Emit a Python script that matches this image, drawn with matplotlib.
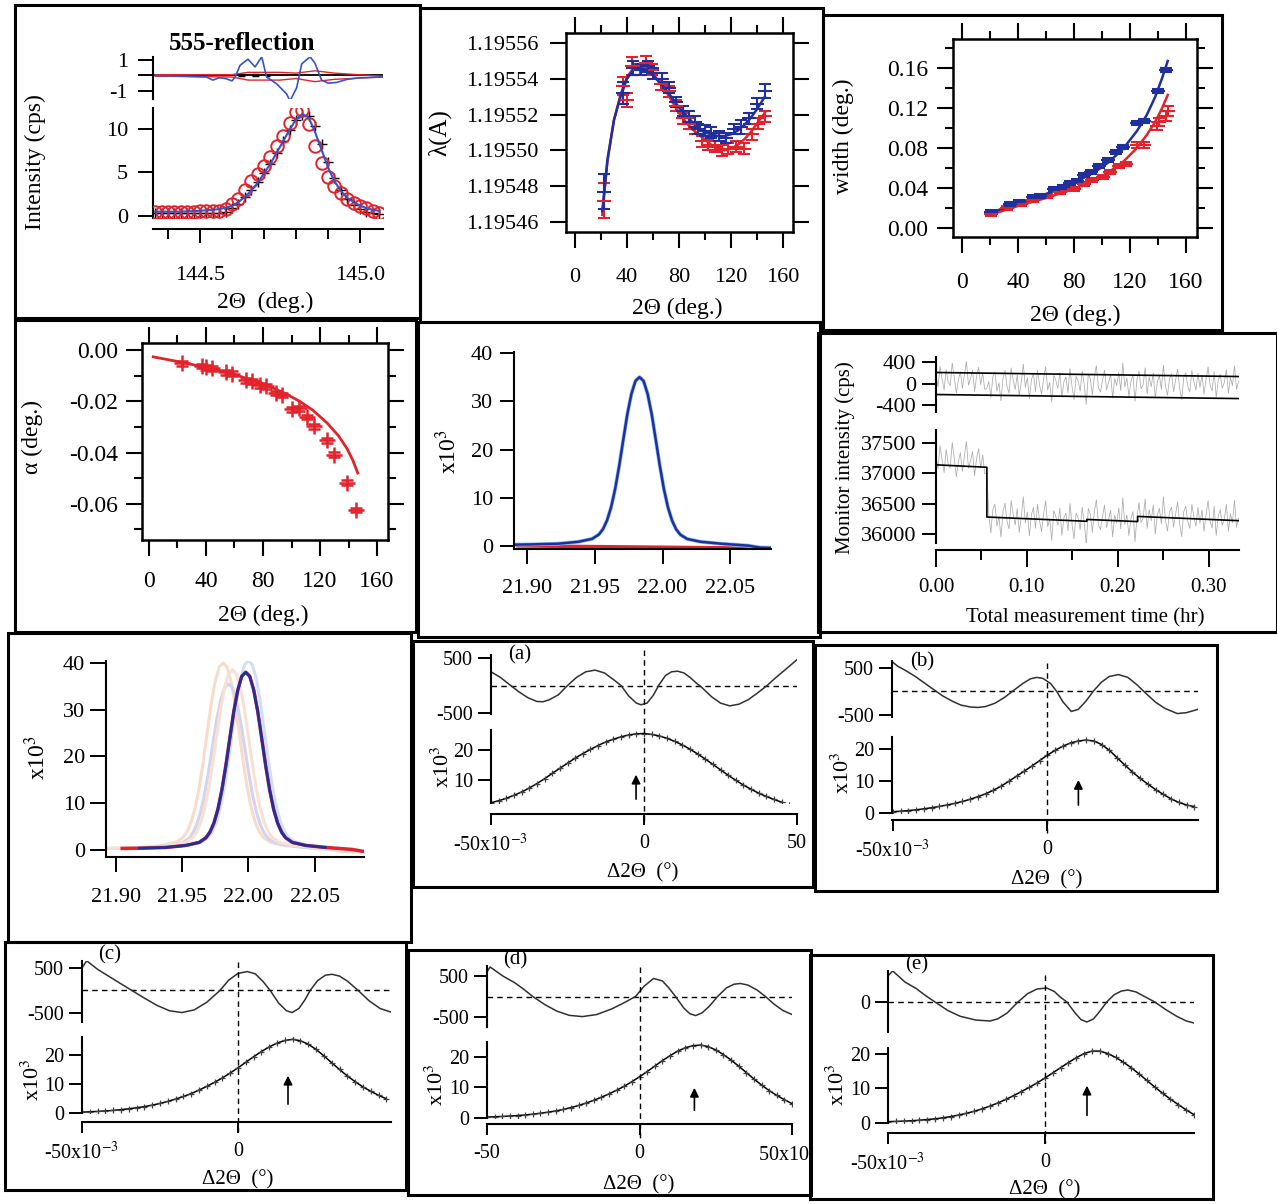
import numpy as np
import matplotlib
matplotlib.use("Agg")
import matplotlib.pyplot as plt
from matplotlib.patches import Rectangle
from matplotlib.ticker import FormatStrFormatter
from matplotlib.transforms import blended_transform_factory

plt.rcParams['font.family'] = ['Liberation Serif', 'DejaVu Serif']
plt.rcParams['mathtext.fontset'] = 'stix'
plt.rcParams['axes.unicode_minus'] = False
plt.rcParams['axes.linewidth'] = 1.5

RED = '#e3232b'
BLUE = '#1f2f9e'
BLUE_L = '#3553c8'

# ---- 555 reflection: observed, model (red circles), fit (blue) ----
tth_555 = np.round(np.arange(144.36, 145.065, 0.02), 2)
obs_555 = [0.3, 0.3, 0.3, 0.3, 0.3, 0.3, 0.3, 0.3, 0.3, 0.35,
           0.4, 0.5, 0.9, 1.4, 2.2, 3.0, 3.9, 4.9, 6.0, 7.2,
           8.6, 9.9, 11.0, 11.6, 11.5, 10.3, 8.3, 6.2, 4.4, 3.0,
           2.0, 1.3, 0.8, 0.5, 0.3, 0.2]
calc_555 = [0.45, 0.45, 0.5, 0.5, 0.5, 0.5, 0.5, 0.55, 0.55, 0.6,
            0.6, 0.8, 1.4, 2.0, 3.0, 4.0, 4.8, 5.8, 6.8, 8.0,
            9.2, 10.7, 11.9, 12.2, 10.6, 8.0, 6.1, 4.5, 3.4, 2.6,
            2.0, 1.5, 1.1, 0.9, 0.6, 0.4]
fit_555 = [0.5, 0.5, 0.5, 0.5, 0.5, 0.55, 0.55, 0.6, 0.65, 0.7,
           0.8, 0.95, 1.15, 1.6, 2.2, 2.9, 3.8, 4.9, 6.0, 7.3,
           8.6, 9.9, 11.1, 11.7, 11.3, 9.6, 7.6, 5.6, 4.0, 2.9,
           2.1, 1.6, 1.2, 0.9, 0.7, 0.6]
res555_x = [144.36, 144.45, 144.52, 144.54, 144.56, 144.58, 144.60, 144.61, 144.625, 144.65,
            144.672, 144.693, 144.708, 144.74, 144.771, 144.781, 144.802, 144.818, 144.844, 144.859,
            144.88, 144.901, 144.927, 144.96, 145.0, 145.07]
res555_blue = [0.0, -0.05, -0.1, -0.3, -0.15, -0.2, -0.35, -0.1, 0.65, 1.05,
               0.55, 1.2, -0.1, -0.55, -1.2, -1.65, -0.8, 0.75, 1.2, 0.8,
               -0.3, -0.5, -0.45, -0.25, -0.15, -0.1]
env555_x = [144.36, 144.60, 144.65, 144.75, 144.80, 144.86, 144.92, 145.07]
env555_hi = [0.05, 0.05, 0.2, 0.2, 0.15, 0.3, 0.15, -0.05]
env555_lo = [-0.05, -0.1, -0.3, -0.3, -0.2, -0.4, -0.25, -0.1]

# ---- wavelength vs 2theta ----
lam_blue_x = [22, 37, 45, 51, 56, 60, 67, 72, 78, 83, 88, 92, 95, 100, 105, 111, 116, 122, 128, 134, 140, 146]
lam_blue = [1.195477, 1.195532, 1.195546, 1.195545, 1.195547, 1.195543, 1.195540, 1.195535, 1.195527, 1.195522,
            1.195519, 1.195516, 1.195512, 1.195511, 1.195510, 1.195508, 1.195507, 1.195512, 1.195513, 1.195518,
            1.195526, 1.195533]
lam_blue_err = [10, 6, 4, 3, 3, 3, 3, 3, 3, 3, 3, 3, 3, 3, 3, 3, 3, 3, 4, 3, 3, 4]
lam_red_x = [22, 37, 40, 44, 50, 55, 59, 66, 72, 78, 83, 88, 92, 98, 102, 108, 113, 118, 124, 130, 136, 141, 146]
lam_red = [1.195472, 1.195536, 1.195528, 1.195547, 1.195545, 1.195549, 1.195545, 1.195537, 1.195533, 1.195525,
           1.195518, 1.195515, 1.195512, 1.195505, 1.195503, 1.195502, 1.195500, 1.195501, 1.195502, 1.195501,
           1.195509, 1.195515, 1.195519]
lam_red_err = [10, 5, 4, 5, 3, 4, 3, 3, 3, 3, 3, 3, 3, 3, 3, 3, 3, 3, 3, 3, 3, 3, 3]
lamfit_x = [21, 25, 30, 35, 40, 45, 50, 55, 60, 65, 70, 75, 80, 85, 90, 95, 100, 105, 110, 115, 120, 125, 130, 135, 140, 146]
lamfit_blue = [1.195466, 1.195495, 1.195517, 1.195530, 1.195540, 1.195545, 1.195546, 1.195545, 1.195542, 1.195538,
               1.195534, 1.195529, 1.195524, 1.195520, 1.195516, 1.195512, 1.195510, 1.195509, 1.195508, 1.195508,
               1.195509, 1.195511, 1.195514, 1.195518, 1.195523, 1.195530]
lamfit_red = [1.195464, 1.195494, 1.195517, 1.195531, 1.195541, 1.195546, 1.195547, 1.195546, 1.195543, 1.195538,
              1.195533, 1.195527, 1.195521, 1.195516, 1.195512, 1.195509, 1.195506, 1.195503, 1.195501, 1.195500,
              1.195501, 1.195503, 1.195506, 1.195510, 1.195515, 1.195521]

# ---- peak width vs 2theta ----
wid_blue_x = [21, 34, 41, 51, 56, 66, 72, 77, 82, 87, 92, 98, 104, 110, 115, 125, 130, 140, 146]
wid_blue = [0.016, 0.024, 0.026, 0.031, 0.032, 0.039, 0.041, 0.045, 0.047, 0.053,
            0.056, 0.062, 0.068, 0.076, 0.081, 0.105, 0.107, 0.137, 0.158]
wid_red_x = [21, 32, 42, 51, 61, 70, 80, 87, 93, 101, 106, 112, 117, 125, 130, 139, 141, 146, 147]
wid_red = [0.014, 0.020, 0.024, 0.028, 0.032, 0.036, 0.039, 0.044, 0.048, 0.051,
           0.056, 0.062, 0.064, 0.083, 0.083, 0.102, 0.106, 0.112, 0.117]
wid_red_err = [0.002, 0.002, 0.002, 0.002, 0.002, 0.002, 0.002, 0.002, 0.002, 0.002,
               0.002, 0.002, 0.002, 0.003, 0.003, 0.004, 0.004, 0.005, 0.005]
widfit_x = [20, 40, 60, 80, 95, 105, 115, 125, 132, 138, 143, 147]
widfit_blue = [0.015, 0.025, 0.034, 0.045, 0.056, 0.066, 0.079, 0.097, 0.113, 0.131, 0.150, 0.167]
widfit_red = [0.013, 0.022, 0.030, 0.039, 0.048, 0.056, 0.066, 0.080, 0.093, 0.106, 0.120, 0.133]

# ---- asymmetry alpha vs 2theta ----
alpha_x = [23, 37, 40, 44, 54, 58, 68, 72, 78, 82, 89, 93, 100, 105, 111, 116, 125, 130, 139, 145]
alpha_y = [-0.0052, -0.0062, -0.0068, -0.0072, -0.0088, -0.0092, -0.0118, -0.0122, -0.0138, -0.0142,
           -0.0168, -0.0175, -0.0232, -0.0228, -0.0262, -0.0298, -0.0352, -0.0408, -0.0518, -0.0624]
alphafit_x = [3, 20, 40, 60, 80, 95, 105, 115, 125, 133, 139, 143, 146.5]
alphafit_y = [-0.0027, -0.0045, -0.0068, -0.0096, -0.0132, -0.0168, -0.0198, -0.0235, -0.0285,
              -0.0335, -0.0385, -0.0430, -0.048]

# ---- single peak scan (x10^3 counts) ----
pk_x = [21.890, 21.903, 21.923, 21.938, 21.948, 21.953, 21.956, 21.959, 21.962, 21.965,
        21.968, 21.971, 21.974, 21.977, 21.980, 21.983, 21.986, 21.989, 21.992, 21.995,
        21.998, 22.001, 22.004, 22.007, 22.010, 22.013, 22.018, 22.028, 22.043, 22.063,
        22.072, 22.080]
pk_y = [0.3, 0.35, 0.5, 0.9, 1.5, 2.4, 3.5, 5.3, 8.0, 11.8,
        16.6, 22.0, 27.3, 31.5, 34.2, 35.0, 34.2, 31.5, 27.3, 22.0,
        16.6, 11.8, 8.0, 5.3, 3.5, 2.4, 1.5, 0.9, 0.5, 0.1,
        -0.3, -0.35]
pk_centre = 21.983

# overlaid scans: centre, height, colour
scan_centres = [21.981, 21.985, 21.988, 22.000]
scan_heights = [40.0, 35.5, 38.5, 40.5]
scan_colors = ['#f8dccb', '#d4d3ef', '#f8e0d2', '#d2def5']
main_centre = 21.998
main_height = 38.0

# ---- monitor intensity ----
fit_t = [0.0, 0.056, 0.056, 0.166, 0.166, 0.222, 0.222, 0.333]
fit_v = [37140, 37100, 36280, 36210, 36240, 36205, 36290, 36220]
mon_resid = [150, -60, 320, 80, -120, 260, 30, -40, 380, 120,
             -180, 60, 220, -90, 170, 410, -30, 90, 250, -150,
             140, 300, -20, 200, -110,
             -90, 40, -260, 130, 220, -140, 10, -320, 100, 240,
             -60, -180, 290, 60, -110, 160, -230, 30, 360, -70,
             110, -280, 70, 190, -150, 250, -30, -200, 90, 310,
             -120, 20, -340, 150, 60, -90, 200, -250, 40, 120,
             -170, 280, -60, -300, 130, 50, -140, 230, -20, -390,
             180, 90, -210, 140, 330, -80, -160, 60, 250, -120,
             20, 170, -270, 90, -40, 210, -130, 380, -60, 100,
             -240, 40, 160, -330, 80, 230, -100, -20, 290, -190,
             120, -60, 200, -280, 30, 150, -110, 340, -40, -220,
             90, 180, -150, 60, 270, -90, -300, 110, 200, -50,
             -160, 240, 30, -120, 190,
             -70, 150, -200, 80, 310, -30, -140, 220, -260, 60,
             170, -90, 20, 260, -180, 110, -40, 330, -110, 40]
sig_t = [0.0, 0.333]
sig_hi = [205, 130]
sig_lo = [-205, -280]

# ---- profile fits (a)-(e), x in 1e-3 deg ----
dgrid = np.arange(-50, 50.1, 2.5)
prof_a = [2.4, 3.1, 3.9, 4.9, 6.0, 7.3, 8.8, 10.4, 12.2, 13.9,
          15.6, 17.3, 18.8, 20.2, 21.5, 22.7, 23.6, 24.4, 25.0, 25.4,
          25.5, 25.2, 24.7, 23.9, 22.9, 21.7, 20.3, 18.7, 17.0, 15.2,
          13.4, 11.6, 9.9, 8.3, 6.9, 5.6, 4.5, 3.5, 2.6, 1.8, 1.1]
prof_b = [0.4, 0.55, 0.75, 1.0, 1.3, 1.65, 2.05, 2.5, 3.0, 3.6,
          4.3, 5.1, 6.0, 7.1, 8.4, 9.9, 11.5, 13.1, 14.7, 16.4,
          18.1, 19.6, 20.9, 21.9, 22.5, 22.8, 22.5, 21.4, 19.6, 17.3,
          15.0, 12.8, 10.8, 9.0, 7.3, 5.8, 4.4, 3.3, 2.5, 2.0]
prof_c = [0.3, 0.4, 0.55, 0.7, 0.9, 1.15, 1.45, 1.8, 2.2, 2.7,
          3.3, 4.0, 4.8, 5.7, 6.7, 7.9, 9.2, 10.6, 12.1, 13.8,
          15.6, 17.5, 19.4, 21.2, 22.8, 24.1, 25.0, 25.4, 24.9, 23.7,
          21.9, 19.7, 17.3, 15.0, 12.8, 10.8, 9.0, 7.5, 6.1, 4.9]
prof_d = [0.3, 0.4, 0.5, 0.65, 0.8, 1.0, 1.25, 1.55, 1.9, 2.3,
          2.8, 3.4, 4.1, 4.9, 5.8, 6.8, 7.9, 9.1, 10.4, 11.9,
          13.5, 15.2, 17.0, 18.8, 20.4, 21.9, 23.0, 23.7, 23.9, 23.4,
          22.3, 20.8, 19.0, 17.0, 14.9, 12.8, 10.8, 9.0, 7.4, 6.0, 4.7]
prof_e = [0.4, 0.45, 0.55, 0.65, 0.8, 1.0, 1.2, 1.5, 1.85, 2.3,
          2.8, 3.4, 4.1, 4.9, 5.8, 6.8, 7.9, 9.1, 10.3, 11.6,
          13.0, 14.5, 16.0, 17.5, 18.9, 20.1, 20.8, 20.8, 20.1, 19.0,
          17.6, 16.0, 14.2, 12.3, 10.4, 8.6, 6.9, 5.3, 3.8, 2.4]

res_a_x = [-50, -47, -44, -41, -38, -35, -33, -31, -28, -25, -22, -19, -16, -13, -10, -7.5, -5, -2.5, -1, 1,
           3, 5, 7, 9, 11, 13, 15, 17, 19, 22, 25, 28, 31, 34, 37, 40, 43, 46, 50]
res_a = [250, 150, 20, -110, -220, -290, -295, -260, -170, 0, 150, 250, 280, 230, 110, 0, -190, -320, -350, -320,
         -180, 20, 180, 250, 260, 230, 150, 50, -40, -200, -320, -370, -340, -260, -140, -10, 140, 280, 470]
res_b_x = [-50, -48.5, -46, -43, -40, -37, -34, -31, -28, -25, -22.5, -20, -17, -14, -11, -8, -5.5, -3.5, -1.5, 1,
           3, 5, 7.7, 10, 12.5, 15, 17.5, 20, 23, 26, 29, 32, 35, 38, 42, 45, 48.7]
res_b = [620, 540, 450, 330, 190, 50, -90, -200, -290, -330, -340, -320, -250, -130, 20, 170, 270, 300, 280, 170,
         0, -220, -425, -380, -200, 20, 200, 320, 360, 300, 140, -50, -230, -360, -470, -450, -380]
res_c_x = [-50, -48.5, -45, -42, -38.5, -34, -30, -26, -22, -18, -14, -10, -5.8, -3, 0, 3, 5.5, 8, 10.3, 13,
           15.5, 17.3, 19.5, 21.5, 23.1, 25.5, 28, 30.1, 32.5, 35, 38.5, 42, 45.5, 49]
res_c = [500, 660, 470, 340, 190, 0, -170, -330, -450, -490, -430, -260, 0, 230, 380, 420, 370, 200, 0, -280,
         -450, -490, -400, -200, 0, 220, 340, 360, 320, 210, 0, -230, -400, -480]
res_d_x = [-50, -49, -44.6, -41, -38, -35, -31, -27, -23, -18.7, -14, -9, -5, -1.3, 1.5, 4.6, 7.5, 9.5, 11.8, 14.5,
           16.5, 18.4, 20.5, 23, 25.6, 28.5, 31, 33.1, 35.5, 38.5, 41.3, 44, 47, 50]
res_d = [600, 720, 490, 340, 180, 0, -200, -360, -460, -490, -440, -300, -150, 0, 250, 440, 380, 220, 0, -280,
         -420, -465, -400, -230, 0, 210, 300, 317, 280, 160, 0, -180, -340, -440]
res_e_x = [-50, -48.5, -44.6, -41, -38, -35, -31, -27, -22, -17.5, -15, -12, -8.6, -5.5, -2.5, 0.6, 3, 5, 7, 9.5,
           11.5, 13.4, 15.5, 17.5, 19.7, 22, 24.3, 26.4, 29, 32, 35, 38.5, 42, 45, 47.5]
res_e = [620, 740, 476, 320, 150, 0, -200, -340, -430, -452, -400, -260, 0, 200, 310, 333, 250, 110, 0, -250,
         -420, -476, -400, -220, 0, 170, 260, 286, 240, 120, 0, -180, -340, -450, -500]
peak_arrow_x = [-2.6, 10.0, 16.0, 18.0, 13.4]

# ------------------------------------------------------------------
W, H = 1277, 1204
fig = plt.figure(figsize=(W / 100, H / 100), dpi=100)


def pt(px):
    return px * 0.72


def make_ax(x0, y0, x1, y1):
    ax = fig.add_axes([x0 / W, 1 - y1 / H, (x1 - x0) / W, (y1 - y0) / H])
    ax.patch.set_visible(False)
    return ax


def add_box(x0, y0, x1, y1):
    r = Rectangle((x0 / W, 1 - y1 / H), (x1 - x0) / W, (y1 - y0) / H,
                  transform=fig.transFigure, fill=False, lw=2.2, ec='k', zorder=10)
    fig.add_artist(r)
    return r


def ftext(x, y, s, size=17, **kw):
    fig.text(x / W, 1 - y / H, s, ha='center', va='center', fontsize=size, **kw)


def open_style(ax, fs, bottom=True):
    ax.spines['top'].set_visible(False)
    ax.spines['right'].set_visible(False)
    if not bottom:
        ax.spines['bottom'].set_visible(False)
        ax.tick_params(axis='x', which='both', bottom=False, labelbottom=False)
    ax.tick_params(which='both', direction='out', labelsize=fs, width=1.4)


def full_style(ax, fs, xpad, ypad):
    for s in ax.spines.values():
        s.set_linewidth(1.8)
    ax.tick_params(which='both', direction='out', labelsize=fs, width=1.5,
                   top=True, right=True)
    ax.tick_params(which='major', length=pt(16))
    ax.tick_params(which='minor', length=pt(8))
    ax.tick_params(axis='x', which='major', pad=pt(xpad))
    ax.tick_params(axis='y', which='major', pad=pt(ypad))
    ax.set_xticks([0, 40, 80, 120, 160])
    ax.set_xticks([20, 60, 100, 140], minor=True)


boxes = [(15, 5, 420, 318), (420, 8, 823, 322), (823, 15, 1222, 330),
         (15, 320, 416, 632), (418, 322, 820, 637), (818, 333, 1277, 632),
         (8, 633, 411, 942), (413, 641, 813, 887), (815, 645, 1217, 891),
         (5, 942, 406, 1190), (408, 950, 811, 1195), (810, 955, 1213, 1199)]
box_patches = [add_box(*b) for b in boxes]

# ---------- 555-reflection ----------
xl1 = (144.353, 145.072)
ax = make_ax(153, 108, 383, 218)
open_style(ax, 16)
ax.set_xlim(*xl1)
ax.set_ylim(-0.23, 12.41)
ax.spines['bottom'].set_position(('outward', pt(11)))
ax.set_xticks([144.5, 145.0])
ax.set_xticklabels(['144.5', '145.0'])
ax.set_xticks([144.4, 144.6, 144.7, 144.8, 144.9], minor=True)
ax.set_yticks([0, 5, 10])
ax.tick_params(axis='x', which='major', length=pt(14), pad=pt(23))
ax.tick_params(axis='x', which='minor', length=pt(10))
ax.tick_params(axis='y', length=pt(15), pad=pt(10))
ax.errorbar(tth_555, obs_555, yerr=0.45, fmt='+', color='k', ms=7, mew=1.0,
            elinewidth=0.8, zorder=2)
ax.plot(tth_555, calc_555, 'o', mfc='none', mec=RED, ms=9, mew=1.4, zorder=3)
ax.plot(tth_555, fit_555, color=BLUE_L, lw=1.5, zorder=4)

axr = make_ax(153, 57, 383, 99)
open_style(axr, 16, bottom=False)
axr.set_xlim(*xl1)
axr.set_ylim(-1.52, 1.19)
axr.set_yticks([1, 0, -1])
axr.set_yticklabels(['1', '', '-1'])
axr.tick_params(axis='y', length=pt(15), pad=pt(10))
axr.axhline(0, color='k', lw=1.3)
axr.plot([144.62, 144.72], [0, 0], color='k', lw=2.5, ls=(0, (2, 2)))
axr.plot(env555_x, env555_hi, color=RED, lw=1.0)
axr.plot(env555_x, env555_lo, color=RED, lw=1.0)
axr.plot(res555_x, res555_blue, color=BLUE_L, lw=1.2)

ftext(242, 44, '555-reflection', size=18, fontweight='bold')
ftext(35, 162, 'Intensity (cps)', rotation=90)
ftext(265, 302, '2\u0398  (deg.)')

# ---------- wavelength ----------
ax = make_ax(566, 33, 793, 232)
full_style(ax, 16, 20, 12)
ax.set_xlim(-6.9, 167.7)
ax.set_ylim(1.1954544, 1.1955656)
ax.set_yticks([1.19546, 1.19548, 1.19550, 1.19552, 1.19554, 1.19556])
ax.yaxis.set_major_formatter(FormatStrFormatter('%.5f'))
ax.plot(lamfit_x, lamfit_red, color=RED, lw=1.8)
ax.errorbar(lam_red_x, lam_red, yerr=np.array(lam_red_err) * 1e-6, fmt='_', color=RED,
            ms=10, mew=1.5, capsize=4, capthick=1.5, elinewidth=1.5)
ax.plot(lamfit_x, lamfit_blue, color=BLUE, lw=1.8)
ax.errorbar(lam_blue_x, lam_blue, yerr=np.array(lam_blue_err) * 1e-6, fmt='_', color=BLUE,
            ms=10, mew=1.5, capsize=4, capthick=1.5, elinewidth=1.5)
ftext(440, 133, '\u03bb(A)', size=18, rotation=90)
ftext(677, 308, '2\u0398 (deg.)')

# ---------- width ----------
ax = make_ax(953, 39, 1197, 237)
full_style(ax, 17, 19, 9)
ax.set_xlim(-6.4, 167.9)
ax.set_ylim(-0.009, 0.189)
ax.set_yticks([0, 0.04, 0.08, 0.12, 0.16])
ax.set_yticks([0.02, 0.06, 0.10, 0.14, 0.18], minor=True)
ax.yaxis.set_major_formatter(FormatStrFormatter('%.2f'))
ax.plot(widfit_x, widfit_red, color=RED, lw=1.8)
ax.errorbar(wid_red_x, wid_red, yerr=wid_red_err, fmt='_', color=RED,
            ms=10, mew=1.5, capsize=4, capthick=1.5, elinewidth=1.5)
ax.plot(widfit_x, widfit_blue, color=BLUE, lw=1.8)
ax.errorbar(wid_blue_x, wid_blue, yerr=0.002, fmt='_', color=BLUE,
            ms=10, mew=1.5, capsize=4, capthick=1.5, elinewidth=1.5)
ftext(843, 136, 'width (deg.)', rotation=90)
ftext(1075, 315, '2\u0398 (deg.)')

# ---------- alpha ----------
ax = make_ax(142, 343, 388, 540)
full_style(ax, 17, 15, 8)
ax.set_xlim(-4.9, 167.7)
ax.set_ylim(-0.0741, 0.0027)
ax.set_yticks([0, -0.02, -0.04, -0.06])
ax.set_yticks([-0.01, -0.03, -0.05, -0.07], minor=True)
ax.yaxis.set_major_formatter(FormatStrFormatter('%.2f'))
ax.plot(alphafit_x, alphafit_y, color=RED, lw=2)
ax.errorbar(alpha_x, alpha_y, yerr=0.0009, fmt='+', color=RED, ms=12, mew=1.8,
            elinewidth=1.4, capsize=4, capthick=1.4)
ftext(32, 437, '\u03b1 (deg.)', rotation=90)
ftext(263, 615, '2\u0398 (deg.)')

# ---------- single peak ----------
ax = make_ax(514, 352, 771, 549)
open_style(ax, 16)
ax.set_xlim(21.8904, 22.080)
ax.set_ylim(-0.6, 40.2)
ax.set_xticks([21.90, 21.95, 22.00, 22.05])
ax.xaxis.set_major_formatter(FormatStrFormatter('%.2f'))
ax.set_yticks([0, 10, 20, 30, 40])
ax.tick_params(axis='x', length=pt(15), pad=pt(15))
ax.tick_params(axis='y', length=pt(14), pad=pt(7))
ax.plot([21.95, 22.08], [-0.45, -0.7], color='#f0b030', lw=1.5)
ax.plot([21.893, 22.08], [0.05, -0.45], color=RED, lw=2.5)
ax.plot(pk_x, pk_y, color='#8fc0f0', lw=2.8)
ax.plot(pk_x, pk_y, color=BLUE, lw=1.8)
ftext(448, 452, 'x10$^3$', rotation=90)

# ---------- monitor ----------
p6_t = np.linspace(0, 0.333, len(mon_resid))
monitor = np.interp(p6_t, fit_t, fit_v) + np.array(mon_resid)
axm = make_ax(936, 430, 1239, 543)
open_style(axm, 15)
axm.set_xlim(0, 0.3335)
axm.set_ylim(35852, 37714)
axm.spines['bottom'].set_position(('outward', pt(7)))
axm.set_xticks([0, 0.1, 0.2, 0.3])
axm.set_xticks([0.05, 0.15, 0.25], minor=True)
axm.xaxis.set_major_formatter(FormatStrFormatter('%.2f'))
axm.set_yticks([36000, 36500, 37000, 37500])
axm.tick_params(axis='x', which='major', length=pt(17), pad=pt(11))
axm.tick_params(axis='x', which='minor', length=pt(10))
axm.tick_params(axis='y', length=pt(14), pad=pt(6), labelsize=16)
axm.plot(p6_t, monitor, color='#ababab', lw=0.55)
axm.plot(fit_t, fit_v, color='k', lw=1.2)

axmr = make_ax(936, 357, 1239, 412)
open_style(axmr, 16, bottom=False)
axmr.set_xlim(0, 0.3335)
axmr.set_ylim(-530, 493)
axmr.set_yticks([400, 0, -400])
axmr.tick_params(axis='y', length=pt(14), pad=pt(6))
axmr.plot(p6_t, mon_resid, color='#ababab', lw=0.55)
axmr.plot(sig_t, sig_hi, color='k', lw=1.2)
axmr.plot(sig_t, sig_lo, color='k', lw=1.2)
ftext(845, 458, 'Monitor intensity (cps)', size=15, rotation=90)
ftext(1085, 618, 'Total measurement time (hr)', size=15)

# ---------- overlaid scans ----------
ax = make_ax(106, 661, 364, 857)
open_style(ax, 16)
ax.set_xlim(21.8928, 22.087)
ax.set_ylim(-1.5, 40.4)
ax.set_xticks([21.90, 21.95, 22.00, 22.05])
ax.xaxis.set_major_formatter(FormatStrFormatter('%.2f'))
ax.set_yticks([0, 10, 20, 30, 40])
ax.tick_params(axis='x', length=pt(15), pad=pt(16))
ax.tick_params(axis='y', length=pt(16), pad=pt(5))
pk_dx = np.array(pk_x) - pk_centre
pk_shape = np.array(pk_y) / max(pk_y)
for c, h, col in zip(scan_centres, scan_heights, scan_colors):
    ax.plot(c + pk_dx, h * pk_shape, color=col, lw=2.2)
ax.plot(main_centre + pk_dx, main_height * pk_shape, color=RED, lw=2.5)
keep = (main_centre + pk_dx >= 21.912) & (main_centre + pk_dx <= 22.062)
ax.plot((main_centre + pk_dx)[keep], (main_height * pk_shape)[keep], color=BLUE, lw=2)
ftext(37, 758, 'x10$^3$', rotation=90)

# ---------- profile fits (a)-(e) ----------
# layout per panel: box index, x span px, residual/profile y spans px, x-axis offset,
# limits, dashed-line span, ticks and text positions
layouts = [
    dict(bi=7, xs=(491, 797), ry=(655, 714), py=(730, 803), off=11, xl=(-50, 50),
         rl=(-518, 555), pl=(2.33, 26.67), vl=(650, 825), rt=[500, -500],
         pt_=[10, 20], xt=[-50, 0, 50], xtl=['-50x10$^{-3}$', '0', '50'],
         lab=(520, 655, '(a)'), yl=(443, 767), xlab=(643, 873), arrow=(2.7, 12.7)),
    dict(bi=8, xs=(892, 1198), ry=(661, 717), py=(737, 813), off=7, xl=(-50.3, 48.7),
         rl=(-543, 649), pl=(0, 23.75), vl=(663, 833), rt=[500, -500],
         pt_=[0, 10, 20], xt=[-50, 0], xtl=['-50x10$^{-3}$', '0'],
         lab=(922, 662, '(b)'), yl=(843, 773), xlab=(1047, 880), arrow=(1.6, 11.2)),
    dict(bi=9, xs=(82, 391), ry=(961, 1022), py=(1037, 1113), off=9, xl=(-50, 49),
         rl=(-700, 655), pl=(0, 26.2), vl=(962, 1132), rt=[500, -500],
         pt_=[0, 10, 20], xt=[-50, 0], xtl=['-50x10$^{-3}$', '0'],
         lab=(110, 955, '(c)'), yl=(33, 1080), xlab=(238, 1180), arrow=(2.1, 13.8)),
    dict(bi=10, xs=(487, 792), ry=(966, 1027), py=(1042, 1118), off=6, xl=(-50, 50),
         rl=(-744, 744), pl=(0, 24.9), vl=(967, 1138), rt=[500, -500],
         pt_=[0, 10, 20], xt=[-50, 0, 50], xtl=['-50', '0', '50x10$^{-3}$'],
         lab=(515, 960, '(d)'), yl=(437, 1085), xlab=(639, 1185), arrow=(1.6, 10.8)),
    dict(bi=11, xs=(888, 1194), ry=(971, 1032), py=(1048, 1123), off=10, xl=(-50, 47.5),
         rl=(-714, 738), pl=(0, 21.7), vl=(975, 1143), rt=[0],
         pt_=[0, 10, 20], xt=[-50, 0], xtl=['-50x10$^{-3}$', '0'],
         lab=(917, 965, '(e)'), yl=(838, 1085), xlab=(1045, 1190), arrow=(1.4, 11.6)),
]
profiles = [prof_a, prof_b, prof_c, prof_d, prof_e]
residuals = [(res_a_x, res_a), (res_b_x, res_b), (res_c_x, res_c), (res_d_x, res_d), (res_e_x, res_e)]

for L, prof, (rx, ry), ax_x in zip(layouts, profiles, residuals, peak_arrow_x):
    x0, x1 = L['xs']
    # residual strip
    axr = make_ax(x0, L['ry'][0], x1, L['ry'][1])
    open_style(axr, 14.5, bottom=False)
    axr.set_xlim(*L['xl'])
    axr.set_ylim(*L['rl'])
    axr.set_yticks(L['rt'])
    axr.tick_params(axis='y', length=pt(13), pad=pt(5))
    axr.axhline(0, color='k', lw=1, ls=(0, (4, 3)))
    axr.plot(rx, ry, color='#303030', lw=1.1)
    # profile
    axp = make_ax(x0, L['py'][0], x1, L['py'][1])
    open_style(axp, 14.5)
    axp.set_xlim(*L['xl'])
    axp.set_ylim(*L['pl'])
    axp.spines['bottom'].set_position(('outward', pt(L['off'])))
    axp.set_yticks(L['pt_'])
    axp.set_xticks(L['xt'])
    axp.set_xticklabels(L['xtl'])
    axp.tick_params(axis='y', length=pt(13), pad=pt(5))
    axp.tick_params(axis='x', length=pt(11), pad=pt(9))
    xs = dgrid[:len(prof)]
    axp.plot(xs, prof, color='k', lw=1.1)
    axp.plot(xs, prof, '+', color='#404040', ms=5, mew=0.9)
    axp.annotate('', xy=(ax_x, L['arrow'][1]), xytext=(ax_x, L['arrow'][0]),
                 arrowprops=dict(arrowstyle='-|>', color='k', lw=1.2, mutation_scale=13))
    trans = blended_transform_factory(axp.transData, fig.transFigure)
    axp.plot([0, 0], [1 - L['vl'][0] / H, 1 - L['vl'][1] / H], transform=trans,
             color='k', lw=1, ls=(0, (4, 3)), clip_on=False)
    for t in axp.get_xticklabels():
        t.set_clip_on(True)
        t.set_clip_path(box_patches[L['bi']])
    lx, ly, ls_ = L['lab']
    ftext(lx, ly, ls_, size=15)
    ftext(L['yl'][0], L['yl'][1], 'x10$^3$', size=16, rotation=90)
    ftext(L['xlab'][0], L['xlab'][1], '\u03942\u0398  (\u00b0)', size=15)

fig.savefig('out.png', dpi=100)
